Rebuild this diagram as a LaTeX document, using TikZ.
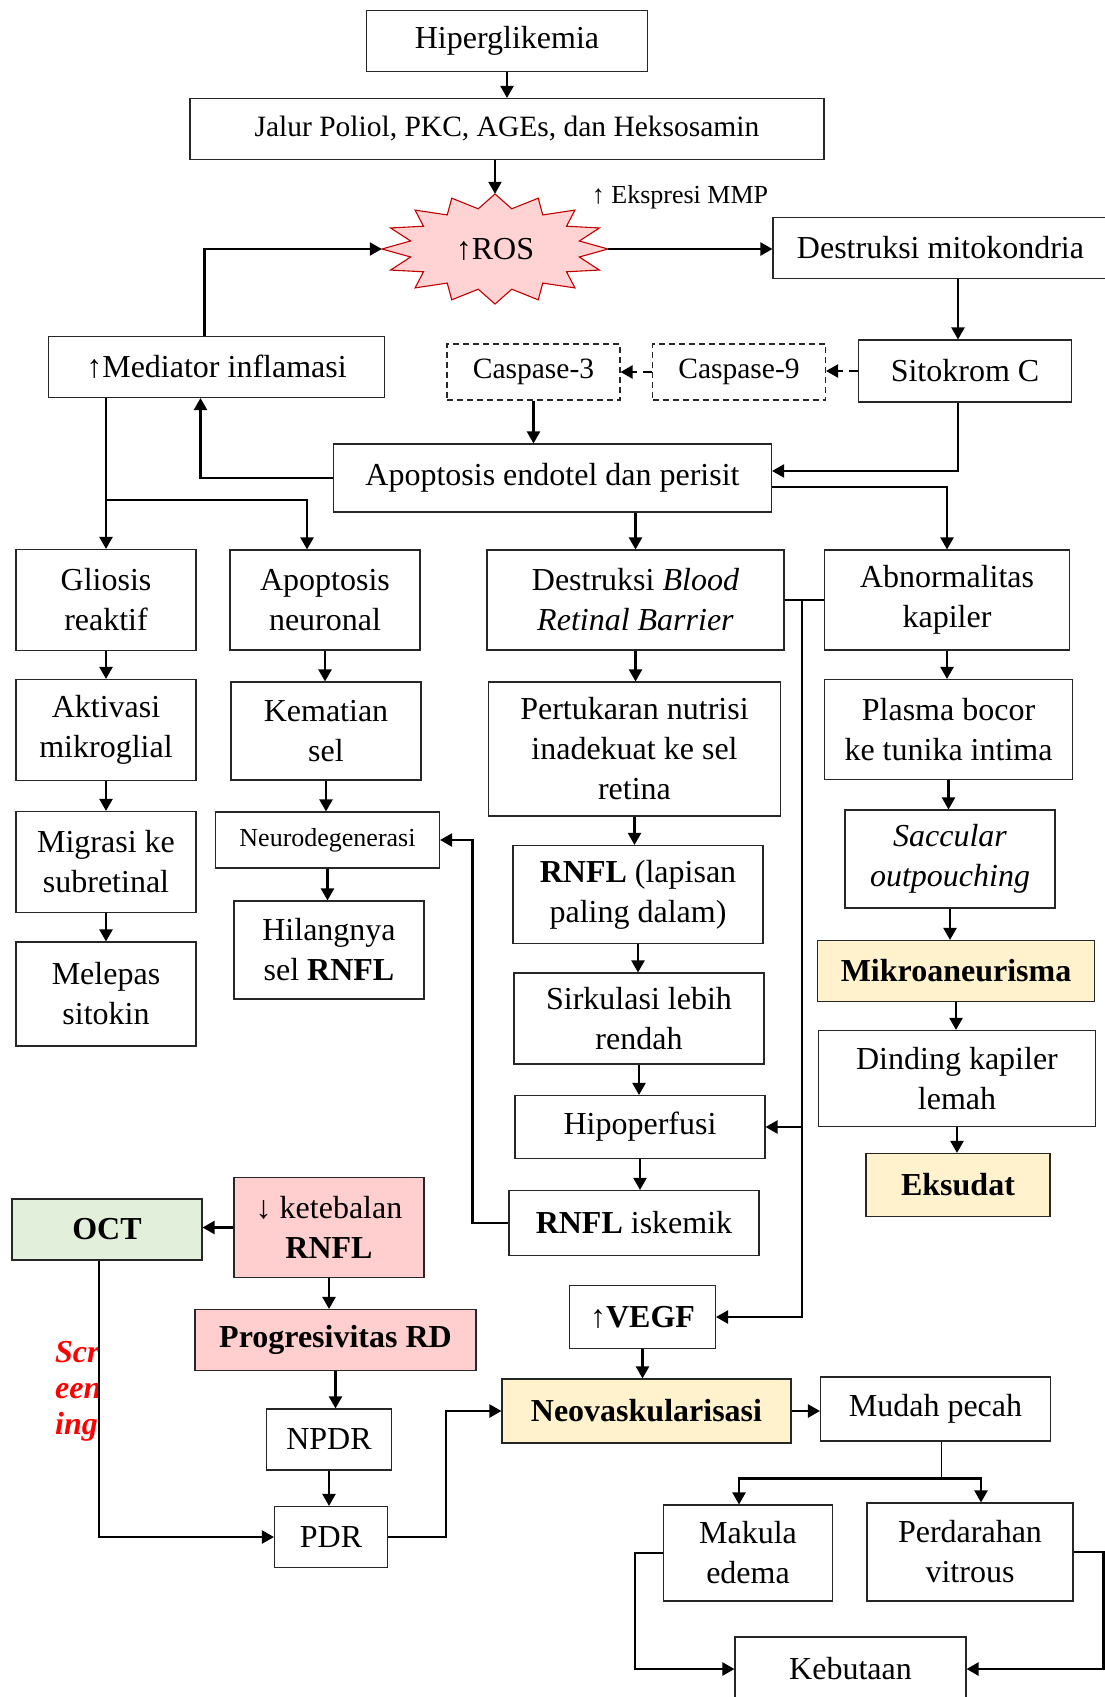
\documentclass[tikz,border=0pt]{standalone}
\usepackage{fontspec}
\setmainfont{Liberation Serif}
\usepackage{xcolor}
\usetikzlibrary{arrows.meta,calc}
\definecolor{DRRed}{HTML}{C00000}
\definecolor{DRRose}{HTML}{FFD3D3}
\definecolor{DRPink}{HTML}{FFCFCF}
\definecolor{DRGreen}{HTML}{E2EFDA}
\definecolor{DRGold}{HTML}{FFF2CC}
\definecolor{DRLine}{HTML}{262626}

\begin{document}
\begin{tikzpicture}[x=1pt,y=-1pt,
  box/.style={draw=DRLine,line width=1.1pt,align=center,inner sep=0pt,font=\fontsize{32}{40}\selectfont},
  dbox/.style={box,dash pattern=on 6pt off 4pt},
  small/.style={font=\fontsize{26}{32}\selectfont},
  mid/.style={font=\fontsize{29.5}{36}\selectfont},
  conn/.style={line width=2.2pt,-{Triangle[length=12pt,width=13pt]}},
  dconn/.style={conn,dash pattern=on 9pt off 6pt}]
\path[use as bounding box] (0,0) rectangle (1104,1697);
\fill[white] (0,0) rectangle (1104,1697);
\coordinate (rosc) at (495,249);
\filldraw[fill=DRRose,draw=DRRed,line width=1.1pt,shift={(rosc)}] (0:113 and 55)
  \foreach \i in {0,...,15}{ -- ({\i*22.5+11.25}:86 and 41) -- ({\i*22.5+22.5}:113 and 55)} -- cycle;
\node[font=\fontsize{32}{40}\selectfont,minimum width=226pt,minimum height=110pt,inner sep=0pt] (ros) at (rosc) {↑ROS};
\node[small] (mmp) at (680,197) {↑ Ekspresi MMP};
\node[box,minimum width=281pt,minimum height=61pt] (hiper) at (507,41) {Hiperglikemia};
\node[box,mid,minimum width=634pt,minimum height=61pt] (jalur) at (507,129) {Jalur Poliol, PKC, AGEs, dan Heksosamin};
\node[box,minimum width=335pt,minimum height=61pt] (mito) at (940.5,248) {Destruksi mitokondria};
\node[box,minimum width=336pt,minimum height=61pt] (mediator) at (216.5,367) {↑Mediator inflamasi};
\node[dbox,mid,minimum width=173pt,minimum height=56pt] (casp3) at (533.5,372) {Caspase-3};
\node[dbox,mid,minimum width=173pt,minimum height=56pt] (casp9) at (739,372) {Caspase-9};
\node[box,minimum width=213pt,minimum height=62pt] (sito) at (965,371) {Sitokrom C};
\node[box,minimum width=438pt,minimum height=68pt] (apo) at (552.5,478) {Apoptosis endotel dan perisit};
\node[box,minimum width=180pt,minimum height=101pt] (gliosis) at (106,600) {Gliosis\\reaktif};
\node[box,minimum width=180pt,minimum height=101pt] (aktivasi) at (106,730) {Aktivasi\\mikroglial};
\node[box,minimum width=180pt,minimum height=101pt] (migrasi) at (106,862) {Migrasi ke\\subretinal};
\node[box,minimum width=180pt,minimum height=104pt] (melepas) at (106,994) {Melepas\\sitokin};
\node[box,minimum width=190pt,minimum height=100pt] (neuronal) at (325,600) {Apoptosis\\neuronal};
\node[box,minimum width=190pt,minimum height=98pt] (kematian) at (326,731) {Kematian\\sel};
\node[box,small,minimum width=224pt,minimum height=56pt] (neurodeg) at (327.5,840) {Neurodegenerasi};
\node[box,minimum width=190pt,minimum height=98pt] (hilang) at (329,950) {Hilangnya\\sel \textbf{RNFL}};
\node[box,minimum width=297pt,minimum height=100pt] (brb) at (635.5,600) {Destruksi \textit{Blood}\\\textit{Retinal Barrier}};
\node[box,minimum width=292pt,minimum height=134pt] (pertukaran) at (634.5,749) {Pertukaran nutrisi\\inadekuat ke sel\\retina};
\node[box,minimum width=250pt,minimum height=98pt] (rnfl) at (638,894.5) {\textbf{RNFL} (lapisan\\paling dalam)};
\node[box,minimum width=250pt,minimum height=91pt] (sirk) at (639,1018.5) {Sirkulasi lebih\\rendah};
\node[box,minimum width=250pt,minimum height=63pt] (hipo) at (640,1127) {Hipoperfusi};
\node[box,minimum width=250pt,minimum height=65pt] (iskemik) at (634,1223) {\textbf{RNFL} iskemik};
\node[box,minimum width=245pt,minimum height=100pt] (abn) at (947,600) {Abnormalitas\\kapiler};
\node[box,minimum width=248pt,minimum height=100pt] (plasma) at (948.5,729.5) {Plasma bocor\\ke tunika intima};
\node[box,minimum width=210pt,minimum height=98pt] (sacc) at (950,859) {\textit{Saccular}\\\textit{outpouching}};
\node[box,fill=DRGold,minimum width=277pt,minimum height=61pt] (mikro) at (956,971) {\textbf{Mikroaneurisma}};
\node[box,minimum width=277pt,minimum height=96pt] (dinding) at (957,1078.5) {Dinding kapiler\\lemah};
\node[box,fill=DRGold,minimum width=184pt,minimum height=63pt] (eksudat) at (958,1185) {\textbf{Eksudat}};
\node[box,fill=DRPink,minimum width=190pt,minimum height=100pt] (keteb) at (329,1227.5) {↓ ketebalan\\\textbf{RNFL}};
\node[box,fill=DRGreen,minimum width=190pt,minimum height=61pt] (oct) at (107,1229.5) {\textbf{OCT}};
\node[box,fill=DRPink,minimum width=281pt,minimum height=61pt] (prog) at (335.5,1340) {\textbf{Progresivitas RD}};
\node[box,minimum width=125pt,minimum height=61pt] (npdr) at (329,1439.5) {NPDR};
\node[box,minimum width=113pt,minimum height=61pt] (pdr) at (331,1537) {PDR};
\node[box,minimum width=146pt,minimum height=63pt] (vegf) at (642.5,1317) {\textbf{↑VEGF}};
\node[box,fill=DRGold,minimum width=289pt,minimum height=64pt] (neo) at (646.5,1411) {\textbf{Neovaskularisasi}};
\node[box,minimum width=230pt,minimum height=64pt] (mudah) at (935.5,1409) {Mudah pecah};
\node[box,minimum width=169pt,minimum height=96pt] (makula) at (748,1553) {Makula\\edema};
\node[box,minimum width=206pt,minimum height=98pt] (perd) at (970,1552) {Perdarahan\\vitrous};
\node[box,minimum width=231pt,minimum height=64pt] (keb) at (850.5,1669) {Kebutaan};
\node[anchor=west,align=left,inner sep=0pt,text=red,font=\fontsize{32}{36}\selectfont\bfseries\itshape] (screen) at (55,1391) {Scr\\een\\ing};
\draw[conn] (hiper.south) -- (hiper.south |- jalur.north);
\draw[conn] (jalur.south -| ros.north) -- (ros.north);
\draw[conn] ([xshift=-12pt]mediator.north) |- (ros.west);
\draw[conn] (ros.east) -- (ros.east -| mito.west);
\draw[conn] ([xshift=-7pt]sito.north |- mito.south) -- ([xshift=-7pt]sito.north);
\draw[dconn] (sito.west) -- (sito.west -| casp9.east);
\draw[dconn] (casp9.west) -- (casp9.west -| casp3.east);
\draw[conn] (casp3.south) -- (casp3.south |- apo.north);
\draw[conn] ([xshift=-7pt]sito.south) |- ([yshift=7pt]apo.east);
\draw[conn] ([yshift=-9pt]apo.east) -| (abn.north);
\draw[conn] (apo.south -| brb.north) -- (brb.north);
\draw[conn] (apo.west) -| ([xshift=-16pt]mediator.south);
\draw[conn] (mediator.south -| gliosis.north) -- (gliosis.north);
\coordinate (nsplit) at (106,500);
\draw[conn] (nsplit) -| ([xshift=-18pt]neuronal.north);
\foreach \a/\b in {gliosis/aktivasi,aktivasi/migrasi,migrasi/melepas,neuronal/kematian,kematian/neurodeg,neurodeg/hilang,
  brb/pertukaran,pertukaran/rnfl,rnfl/sirk,sirk/hipo,hipo/iskemik,abn/plasma,plasma/sacc,sacc/mikro,mikro/dinding,
  dinding/eksudat,keteb/prog,prog/npdr,npdr/pdr,vegf/neo}
  \draw[conn] (\a.south) -- (\a.south |- \b.north);
\draw[line width=2.2pt] (brb.east) -- (abn.west);
\coordinate (bus) at ($(brb.east)!0.45!(abn.west)$);
\draw[conn] (bus) |- (vegf.east);
\draw[conn] (bus |- hipo.east) -- (hipo.east);
\draw[conn] (iskemik.west) -- ++(-36,0) |- (neurodeg.east);
\draw[conn] (keteb.west) -- (keteb.west -| oct.east);
\draw[conn] ([xshift=-8pt]oct.south) |- (pdr.west);
\draw[conn] (pdr.east) -- ++(58,0) |- (neo.west);
\draw[conn] (neo.east) -- (neo.east -| mudah.west);
\draw[line width=1pt] ([xshift=6pt]mudah.south) -- ++(0,37) coordinate (fork);
\draw[conn] (fork) -| ([xshift=-9pt]makula.north);
\draw[conn] (fork) -| ([xshift=11pt]perd.north);
\draw[conn] (makula.west) -- ++(-28,0) |- (keb.west);
\draw[conn] (perd.east) -- ++(30,0) |- (keb.east);
\end{tikzpicture}
\end{document}
